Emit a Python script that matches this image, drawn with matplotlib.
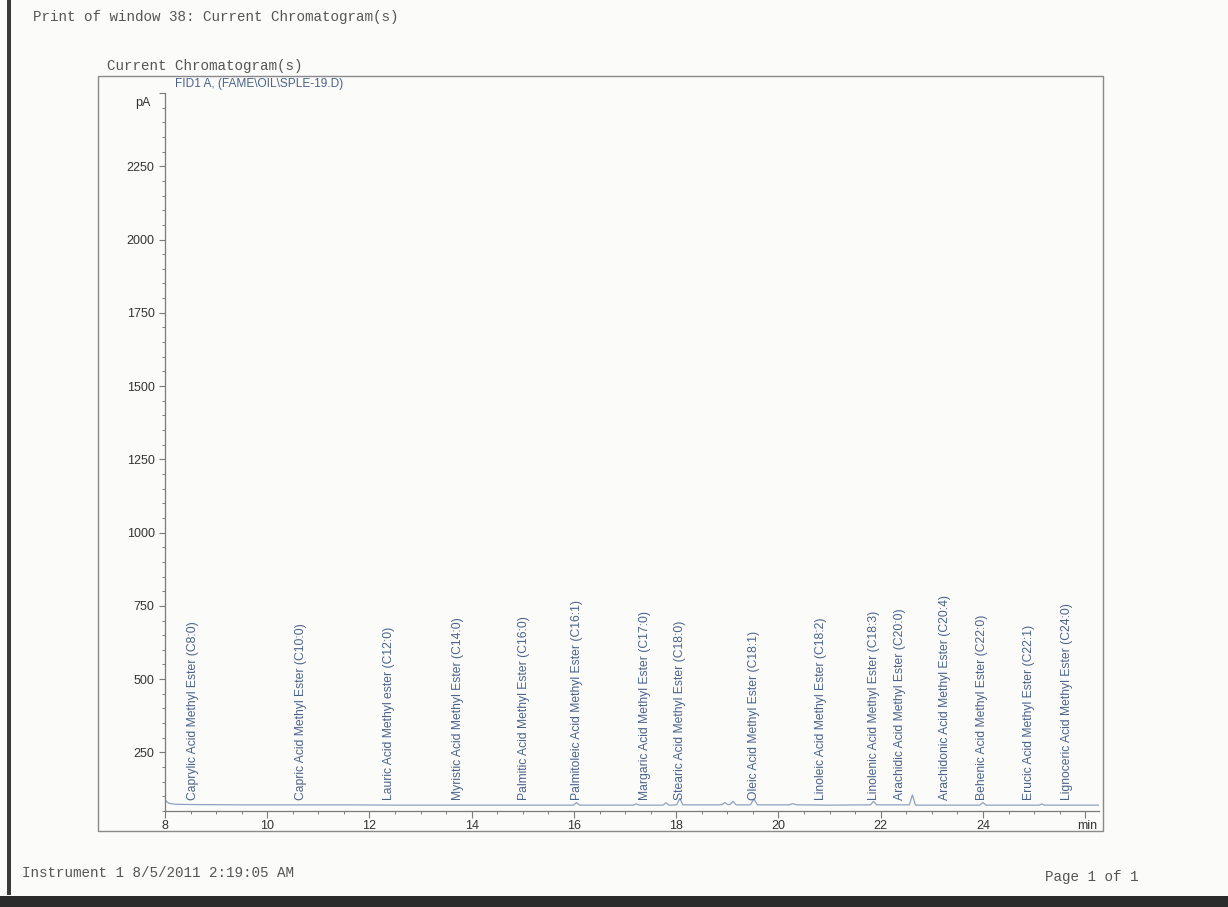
import numpy as np
import matplotlib.pyplot as plt
from matplotlib.patches import Rectangle
from matplotlib.ticker import MultipleLocator, FixedLocator

# FID1 A trace (retention time in min, signal in pA)
trace_min = [8.00, 8.02, 8.08, 8.20, 8.50, 9.50, 10.50, 11.50, 12.50, 13.50, 14.50,
             15.50, 15.99, 16.05, 16.11, 16.80, 17.16, 17.22, 17.28, 17.74, 17.80,
             17.86, 18.01, 18.07, 18.13, 18.60, 18.89, 18.95, 19.01, 19.05, 19.11,
             19.17, 19.45, 19.52, 19.59, 20.20, 20.28, 20.36, 21.00, 21.80, 21.86,
             21.92, 22.56, 22.62, 22.68, 23.00, 23.94, 24.00, 24.06, 25.10, 25.15,
             25.20, 26.27]
trace_pA = [86, 84, 76, 73, 72, 71, 71, 71, 70, 70, 70,
            70, 70, 79, 70, 70, 70, 74, 70, 70, 78,
            70, 71, 93, 71, 71, 71, 79, 72, 72, 83,
            71, 71, 91, 71, 71, 75, 71, 70, 71, 83,
            71, 71, 105, 70, 70, 70, 79, 70, 70, 74,
            70, 70]

# peak identification
peak_names = ["Caprylic Acid Methyl Ester (C8:0)", "Capric Acid Methyl Ester (C10:0)",
              "Lauric Acid Methyl ester (C12:0)", "Myristic Acid Methyl Ester (C14:0)",
              "Palmitic Acid Methyl Ester (C16:0)", "Palmitoleic Acid Methyl Ester (C16:1)",
              "Margaric Acid Methyl Ester (C17:0)", "Stearic Acid Methyl Ester (C18:0)",
              "Oleic Acid Methyl Ester (C18:1)", "Linoleic Acid Methyl Ester (C18:2)",
              "Linolenic Acid Methyl Ester (C18:3)", "Arachidic Acid Methyl Ester (C20:0)",
              "Arachidonic Acid Methyl Ester (C20:4)", "Behenic Acid Methyl Ester (C22:0)",
              "Erucic Acid Methyl Ester (C22:1)", "Lignoceric Acid Methyl Ester (C24:0)"]
peak_rt = [8.54, 10.66, 12.39, 13.74, 15.03, 16.05, 17.38, 18.07,
           19.52, 20.83, 21.87, 22.38, 23.25, 23.98, 24.90, 25.64]

y_ticks = [250, 500, 750, 1000, 1250, 1500, 1750, 2000, 2250, 2500]
x_ticks = [8, 10, 12, 14, 16, 18, 20, 22, 24, 26]

W, H = 1228, 907
fig = plt.figure(figsize=(W / 100, H / 100), dpi=100, facecolor="#fbfbfa")

def fx(px):
    return px / W

def fy(py):
    return (H - py) / H

mono = "Liberation Mono"
sans = "Liberation Sans"
grey = "#555555"
blue = "#4a628a"

# page header / footer
fig.text(fx(33), fy(17), "Print of window 38: Current Chromatogram(s)", family=mono,
         fontsize=10.3, color=grey, va="center", ha="left")
fig.text(fx(107), fy(66), "Current Chromatogram(s)", family=mono,
         fontsize=10.3, color=grey, va="center", ha="left")
fig.text(fx(22), fy(873), "Instrument 1 8/5/2011 2:19:05 AM", family=mono,
         fontsize=10.3, color=grey, va="center", ha="left")
fig.text(fx(1045), fy(877), "Page 1 of 1", family=mono,
         fontsize=10.3, color=grey, va="center", ha="left")

# frame round the plot
fig.patches.append(Rectangle((fx(98), fy(831)), fx(1103) - fx(98), fy(76) - fy(831),
                             transform=fig.transFigure, fill=False, ec="#8a8a8a", lw=1.0))
fig.text(fx(175), fy(83.5), "FID1 A, (FAME\\OIL\\SPLE-19.D)", family=sans,
         fontsize=8.6, color=blue, va="center", ha="left")

# scanner edges
fig.patches.append(Rectangle((fx(7), fy(895)), fx(4), fy(0) - fy(895),
                             transform=fig.transFigure, fc="#3a3a3a", ec="none"))
fig.patches.append(Rectangle((0, 0), 1, fy(896), transform=fig.transFigure,
                             fc="#2b2b2b", ec="none"))

ax = fig.add_axes([fx(165), fy(811), fx(1099) - fx(165), fy(93) - fy(811)])
ax.set_facecolor("none")
ax.plot(trace_min, trace_pA, color="#8ea2c0", lw=0.9)

for name, rt in zip(peak_names, peak_rt):
    ax.text(rt, 86, name, rotation=90, ha="center", va="bottom",
            family=sans, fontsize=8.7, color=blue)

ax.set_xlim(8, 26.27)
ax.set_ylim(50, 2500)

for s in ["top", "right"]:
    ax.spines[s].set_visible(False)
for s in ["left", "bottom"]:
    ax.spines[s].set_color("#7a7a7a")
    ax.spines[s].set_linewidth(0.9)

ax.xaxis.set_major_locator(FixedLocator(x_ticks))
ax.xaxis.set_minor_locator(MultipleLocator(0.5))
ax.set_xticklabels([str(t) for t in x_ticks[:-1]] + [""])
ax.yaxis.set_major_locator(FixedLocator(y_ticks))
ax.yaxis.set_minor_locator(MultipleLocator(50))
ax.set_yticklabels([str(t) for t in y_ticks[:-1]] + [""])

ax.tick_params(axis="x", which="major", length=5, width=0.8, color="#7a7a7a", pad=1.5,
               labelsize=9, labelcolor="#333333")
ax.tick_params(axis="x", which="minor", length=2.5, width=0.7, color="#7a7a7a")
ax.tick_params(axis="y", which="major", length=4.5, width=0.8, color="#7a7a7a", pad=3,
               labelsize=9, labelcolor="#333333")
ax.tick_params(axis="y", which="minor", length=2.5, width=0.7, color="#7a7a7a")
for lab in ax.get_xticklabels() + ax.get_yticklabels():
    lab.set_family(sans)

ax.text(-0.016, 2465, "pA", transform=ax.get_yaxis_transform(), ha="right", va="center",
        family=sans, fontsize=9, color="#333333")
ax.annotate("min", xy=(1.0, 0), xycoords="axes fraction", xytext=(-1, -6.5),
            textcoords="offset points", ha="right", va="top",
            family=sans, fontsize=9, color="#333333")

fig.savefig("out.png", dpi=100, facecolor=fig.get_facecolor())
